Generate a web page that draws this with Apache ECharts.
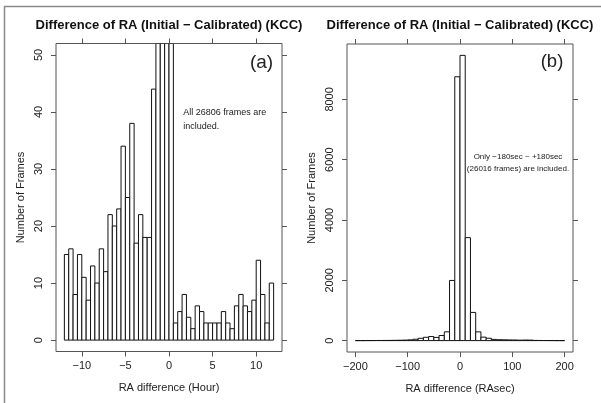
<!DOCTYPE html>
<html>
<head>
<meta charset="utf-8">
<script src="https://cdn.jsdelivr.net/npm/echarts@6/dist/echarts.min.js"></script>
<style>
html,body{margin:0;padding:0;background:#fff;}
#chart{width:601px;height:403px;}
</style>
</head>
<body>
<div id="chart"></div>
<script>
// ---- data ----
var titleText = 'Difference of RA (Initial \u2212 Calibrated) (KCC)';
// Panel (a): bins of 0.5 hour from -12 to +12
var hourBinStart = -12;
var hourBinWidth = 0.5;
var hourCounts = [15, 16, 8, 15, 11, 7, 13, 10, 16, 12, 22, 20, 23, 34, 25, 38, 17, 22, 18, 18, 44,
  60, 95, 12350, 13775,
  3, 5, 8, 4, 2, 6, 5, 3, 3, 3, 3, 5, 3, 2, 6, 8, 6, 5, 7, 14, 8, 3, 10];
var hourTicks = [-10, -5, 0, 5, 10];
var hourCountTicks = [0, 10, 20, 30, 40, 50];
// Panel (b): bins of 10 RAsec from -200 to +200
var secBinStart = -200;
var secBinWidth = 10;
var secCounts = [0, 0, 2, 3, 4, 5, 7, 9, 12, 16,
  25, 45, 78, 110, 135, 105, 170, 290, 1995, 8750,
  9460, 3415, 935, 290, 115, 78, 40, 30, 26, 22,
  20, 15, 18, 16, 6, 4, 3, 2, 0, 0];
var secTicks = [-200, -100, 0, 100, 200];
var secCountTicks = [0, 2000, 4000, 6000, 8000];

// ---- helpers ----
function binData(start, width, counts) {
  return counts.map(function (c, i) {
    return [start + i * width, start + (i + 1) * width, c];
  });
}
function fmtMinus(v) { return v < 0 ? '\u2212' + Math.abs(v) : String(v); }
function fmtPlain(v) { return String(v); }

var FONT = '"Liberation Sans", Arial, Helvetica, sans-serif';
var TXT = '#222';
var AXC = '#555';

function makeRender(yMax) {
  return function (params, api) {
    var x0 = api.value(0), x1 = api.value(1), y = api.value(2);
    var p0 = api.coord([x0, Math.min(y, yMax)]);
    var p1 = api.coord([x1, 0]);
    return {
      type: 'rect',
      shape: { x: p0[0], y: p0[1], width: p1[0] - p0[0], height: p1[1] - p0[1] },
      style: { fill: '#fff', stroke: '#111', lineWidth: 1 }
    };
  };
}

function xAxisPair(grid, min, max, ticks, name) {
  return [{
    gridIndex: grid, type: 'value', position: 'bottom', min: min, max: max,
    axisLine: { show: false, onZero: false },
    axisTick: { show: true, inside: false, length: 5, customValues: ticks, lineStyle: { color: AXC } },
    axisLabel: { customValues: ticks, formatter: fmtMinus, fontSize: 11, fontFamily: FONT, color: TXT, margin: 9 },
    splitLine: { show: false },
    name: name, nameLocation: 'middle', nameGap: 31,
    nameTextStyle: { fontSize: 11, fontFamily: FONT, color: TXT }
  }, {
    gridIndex: grid, type: 'value', position: 'top', min: min, max: max,
    axisLine: { show: false, onZero: false },
    axisTick: { show: true, inside: false, length: 5, customValues: ticks, lineStyle: { color: AXC } },
    axisLabel: { show: false },
    splitLine: { show: false }
  }];
}
function yAxisPair(grid, min, max, ticks) {
  return [{
    gridIndex: grid, type: 'value', position: 'left', min: min, max: max,
    axisLine: { show: false, onZero: false },
    axisTick: { show: true, inside: false, length: 5, customValues: ticks, lineStyle: { color: AXC } },
    axisLabel: { customValues: ticks, formatter: fmtPlain, rotate: 90, fontSize: 11, fontFamily: FONT, color: TXT, margin: 12 },
    splitLine: { show: false },
    name: 'Number of Frames', nameLocation: 'middle', nameGap: 30,
    nameTextStyle: { fontSize: 11, fontFamily: FONT, color: TXT }
  }, {
    gridIndex: grid, type: 'value', position: 'right', min: min, max: max,
    axisLine: { show: false, onZero: false },
    axisTick: { show: true, inside: false, length: 5, customValues: ticks, lineStyle: { color: AXC } },
    axisLabel: { show: false },
    splitLine: { show: false }
  }];
}

var hourMin = -2, hourMax = 52;
var secMin = -378, secMax = 9837;

var chart = echarts.init(document.getElementById('chart'), null, { renderer: 'canvas' });
chart.setOption({
  animation: false,
  backgroundColor: '#fff',
  grid: [
    { left: 56, top: 43.5, width: 226, height: 308, show: true, borderColor: AXC, borderWidth: 1, backgroundColor: 'transparent', outerBoundsMode: 'none', containLabel: false },
    { left: 347, top: 44, width: 226, height: 308, show: true, borderColor: AXC, borderWidth: 1, backgroundColor: 'transparent', outerBoundsMode: 'none', containLabel: false }
  ],
  xAxis: [].concat(
    xAxisPair(0, -12.96, 12.96, hourTicks, 'RA difference (Hour)'),
    xAxisPair(1, -216, 216, secTicks, 'RA difference (RAsec)')
  ),
  yAxis: [].concat(
    yAxisPair(0, hourMin, hourMax, hourCountTicks),
    yAxisPair(1, secMin, secMax, secCountTicks)
  ),
  series: [
    {
      type: 'custom', xAxisIndex: 0, yAxisIndex: 0, clip: true,
      renderItem: makeRender(hourMax),
      encode: { x: [0, 1], y: 2 },
      data: binData(hourBinStart, hourBinWidth, hourCounts)
    },
    {
      type: 'custom', xAxisIndex: 2, yAxisIndex: 2, clip: true,
      renderItem: makeRender(secMax),
      encode: { x: [0, 1], y: 2 },
      data: binData(secBinStart, secBinWidth, secCounts)
    }
  ],
  graphic: [
    { type: 'rect', silent: true, z: 100, shape: { x: 4.5, y: 6.5, width: 700, height: 500 },
      style: { fill: 'none', stroke: '#8a8a8a', lineWidth: 1.5 } },
    { type: 'text', x: 169, y: 25, style: { text: titleText, font: 'bold 13px ' + FONT, fill: '#111', align: 'center', verticalAlign: 'middle' } },
    { type: 'text', x: 460, y: 25, style: { text: titleText, font: 'bold 13px ' + FONT, fill: '#111', align: 'center', verticalAlign: 'middle' } },
    { type: 'text', x: 261.5, y: 63, style: { text: '(a)', font: '19px ' + FONT, fill: TXT, align: 'center', verticalAlign: 'middle' } },
    { type: 'text', x: 552, y: 62, style: { text: '(b)', font: '18.5px ' + FONT, fill: TXT, align: 'center', verticalAlign: 'middle' } },
    { type: 'text', x: 183.3, y: 112.7, style: { text: 'All 26806 frames are', font: '9px ' + FONT, fill: TXT, align: 'left', verticalAlign: 'middle' } },
    { type: 'text', x: 183.3, y: 126.7, style: { text: 'included.', font: '9px ' + FONT, fill: TXT, align: 'left', verticalAlign: 'middle' } },
    { type: 'text', x: 518, y: 156.7, style: { text: 'Only \u2212180sec ~ +180sec', font: '8px ' + FONT, fill: TXT, align: 'center', verticalAlign: 'middle' } },
    { type: 'text', x: 518, y: 168.3, style: { text: '(26016 frames) are included.', font: '8px ' + FONT, fill: TXT, align: 'center', verticalAlign: 'middle' } }
  ]
});
</script>
</body>
</html>
